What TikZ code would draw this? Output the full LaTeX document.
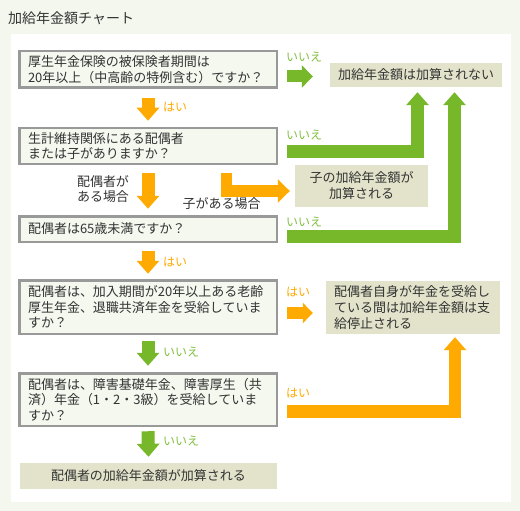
\documentclass[tikz,border=0pt]{standalone}
\usepackage{fontspec}
\setmainfont{Noto Sans CJK JP}
\usetikzlibrary{arrows.meta}
\definecolor{bgc}{HTML}{F3F7ED}
\definecolor{boxc}{HTML}{F4F8EF}
\definecolor{bordc}{HTML}{999999}
\definecolor{beige}{HTML}{E3E3CB}
\definecolor{orng}{HTML}{FFAA00}
\definecolor{grn}{HTML}{77B82A}
\definecolor{lgrn}{HTML}{80C040}
\definecolor{txt}{HTML}{333333}
\begin{document}
\begin{tikzpicture}[x=1pt,y=-1pt,
  qbox/.style={draw=bordc, line width=2.5pt, fill=boxc, minimum width=257.5pt, inner sep=0pt,
    text width=240pt, align=left, text=txt, font=\fontsize{13}{15.5}\selectfont},
  rbox/.style={fill=beige, inner sep=0pt, text=txt, font=\fontsize{13}{16}\selectfont},
  lab/.style={anchor=west, inner sep=0pt, font=\fontsize{12}{14}\selectfont},
  olab/.style={lab, text=orng},
  glab/.style={lab, text=lgrn},
  tlab/.style={inner sep=0pt, text=txt, font=\fontsize{13}{15}\selectfont},
  darr/.style={line width=13pt, -{Triangle[length=13pt,width=22pt]}},
  harr/.style={line width=12pt, -{Triangle[length=11pt,width=22pt]}},
  barr/.style={line width=12.5pt, line join=miter, -{Triangle[length=13pt,width=22pt]}},
]
\useasboundingbox (0,0) rectangle (520,511);
\fill[bgc] (0,0) rectangle (520,511);
\fill[white] (11,34) rectangle (511,502);
\node[anchor=west, inner sep=0pt, text=txt, font=\fontsize{14}{16}\selectfont] (title) at (8,18) {加給年金額チャート};

% question boxes
\node[qbox, minimum height=36.5pt] (b1) at (148,69.5) {厚生年金保険の被保険者期間は\\\mbox{20年以上（中高齢の特例含む）ですか？}};
\node[qbox, minimum height=35.5pt] (b2) at (148,146) {生計維持関係にある配偶者\\または子がありますか？};
\node[qbox, minimum height=25.5pt] (b3) at (148,229) {配偶者は65歳未満ですか？};
\node[qbox, minimum height=53.5pt] (b4) at (148,307) {\mbox{配偶者は、加入期間が20年以上ある老齢}\\\mbox{厚生年金、退職共済年金を受給していま}\\すか？};
\node[qbox, minimum height=52.5pt] (b5) at (148,399.5) {\mbox{配偶者は、障害基礎年金、障害厚生（共}\\\mbox{済）年金（1・2・3級）を受給していま}\\すか？};

% result boxes
\node[rbox, minimum width=172pt, minimum height=24pt] (r1) at (416,75) {加給年金額は加算されない};
\node[rbox, minimum width=133pt, minimum height=42pt, align=center] (r2) at (361.5,186) {子の加給年金額が\\加算される};
\node[rbox, minimum width=174pt, minimum height=53pt, text width=158pt, align=left] (r3) at (413,307.5) {配偶者自身が年金を受給し\\ている間は加給年金額は支\\給停止される};
\node[rbox, minimum width=257pt, minimum height=26pt] (r4) at (148.5,476) {配偶者の加給年金額が加算される};

% down arrows
\draw[darr, orng] ([yshift=-9.25pt]b1.south) -- ([yshift=6.25pt]b2.north);
\draw[darr, orng] ([yshift=-8.25pt]b2.south) -- ([yshift=6.25pt]b3.north);
\draw[darr, orng] ([yshift=-8.25pt]b3.south) -- ([yshift=5.25pt]b4.north);
\draw[darr, grn] ([yshift=-6.25pt]b4.south) -- ([yshift=6.25pt]b5.north);
\draw[darr, grn] ([yshift=-4.25pt]b5.south) -- ([yshift=6pt]r4.north);

% right arrows
\coordinate (a1s) at ([shift={(9.25,7)}]b1.east);
\draw[harr, grn, shorten >=17pt] (a1s) -- (a1s -| r1.west);
\coordinate (a4s) at ([shift={(9.25,6)}]b4.east);
\draw[harr, orng, shorten >=13pt, -{Triangle[length=10pt,width=20pt]}] (a4s) -- (a4s -| r3.west);

% bent arrows
\coordinate (g2s) at ([shift={(9.25,5.5)}]b2.east);
\coordinate (g2e) at ([shift={(1.5,5)}]r1.south);
\draw[barr, grn] (g2s) -| (g2e);
\coordinate (g3s) at ([shift={(9.25,7.5)}]b3.east);
\coordinate (g3e) at ([shift={(38.5,5)}]r1.south);
\draw[barr, grn] (g3s) -| (g3e);
\coordinate (o2s) at ([shift={(78.5,8.25)}]b2.south);
\coordinate (o2e) at ([shift={(-5,5)}]r2.west);
\draw[barr, orng, line width=11.5pt, -{Triangle[length=12pt,width=23pt]}] (o2s) |- (o2e);
\coordinate (o5s) at ([shift={(9.25,12)}]b5.east);
\coordinate (o5e) at ([shift={(42,3)}]r3.south);
\draw[barr, orng] (o5s) -| (o5e);

% labels
\node[olab] (l1) at (163,107) {はい};
\node[glab] (l2) at (286,57) {いいえ};
\node[glab] (l3) at (286,135) {いいえ};
\node[tlab, align=left] (l4) at (103,189.5) {配偶者が\\ある場合};
\node[tlab] (l5) at (221.5,204) {子がある場合};
\node[glab] (l6) at (286,222) {いいえ};
\node[olab] (l7) at (163,262) {はい};
\node[olab] (l8) at (286,292) {はい};
\node[glab] (l9) at (163,352) {いいえ};
\node[olab] (l10) at (286,393) {はい};
\node[glab] (l11) at (163,441) {いいえ};
\end{tikzpicture}
\end{document}
